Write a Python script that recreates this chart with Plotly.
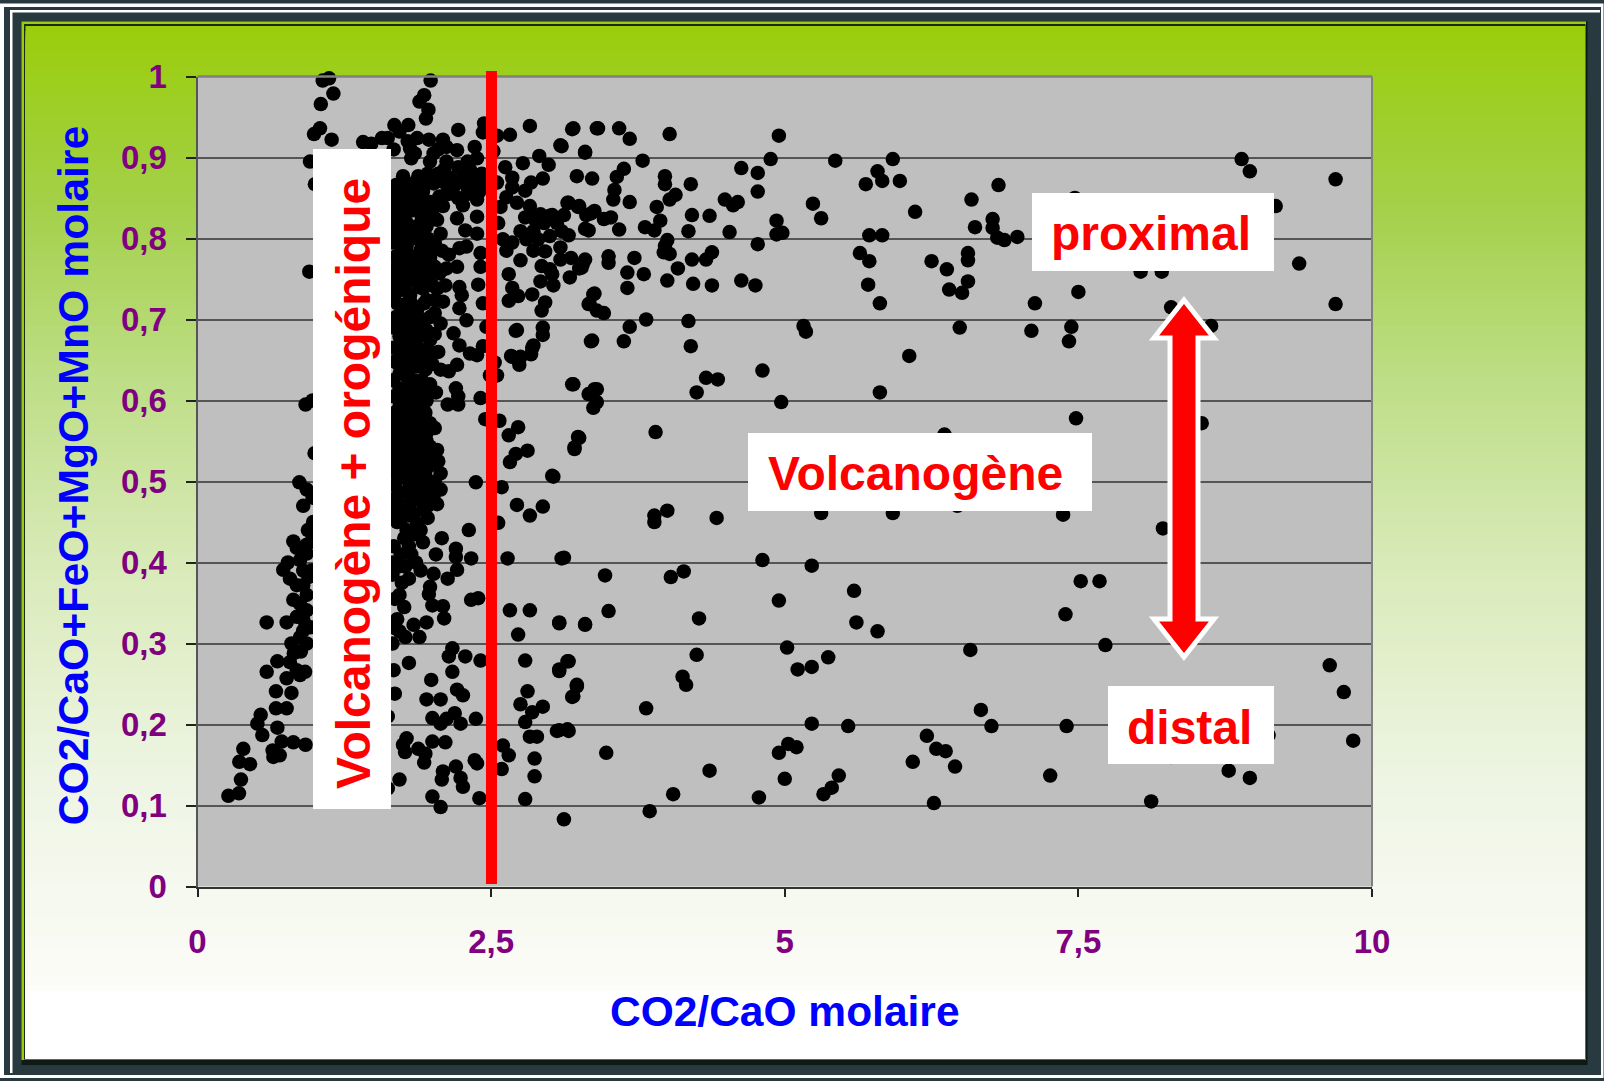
import plotly.graph_objects as go

W, H = 1604, 1081

far_field = [(9.84,.18),(9.76,.24),(9.64,.273),(9.69,.873),(9.69,.719),(9.38,.769),(9.18,.84),(8.96,.883),(8.89,.898),(8.96,.134),(8.78,.143),(9.12,.187),(8.12,.105),(8.29,.16),(8.22,.442),(8.55,.572),(8.63,.692),(8.29,.715),(8.21,.759),(8.03,.759),(7.73,.298),(7.68,.377),(7.52,.377),(7.39,.336),(7.37,.459),(7.48,.578),(7.42,.673),(7.44,.691),(7.50,.734),(7.13,.72),(7.10,.686),(7.47,.85),(6.98,.802),(6.87,.798),(6.82,.866),(6.77,.824),(6.77,.813),(6.81,.801),(6.59,.848),(6.62,.814),(6.56,.782),(6.56,.747),(6.56,.773),(6.51,.733),(6.40,.737),(6.38,.762),(6.25,.772),(6.49,.69),(6.06,.655),(6.11,.833),(5.98,.871),(5.92,.898),(5.83,.871),(5.79,.883),(5.69,.867),(5.83,.804),(5.72,.804),(5.72,.772),(5.64,.782),(5.71,.743),(5.81,.72),(5.81,.61),(5.43,.896),(5.24,.843),(5.31,.825),(5.16,.692),(5.18,.685),(4.97,.598),(4.81,.637),(4.95,.927),(4.88,.898),(4.77,.881),(4.77,.858),(4.77,.793),(4.93,.822),(4.93,.805),(4.98,.807),(4.63,.887),(4.60,.845),(4.56,.841),(4.49,.848),(4.53,.808),(4.36,.828),(4.21,.829),(4.20,.867),(4.18,.809),(4.63,.748),(4.75,.742),(4.38,.742),(4.38,.783),(4.33,.774),(4.21,.774),(4.22,.744),(4.00,.748),(4.18,.698),(4.20,.667),(4.33,.628),(4.43,.626),(4.25,.61),(3.90,.561),(4.42,.455),(4.00,.464),(3.89,.458),(3.89,.45),(4.03,.382),(4.14,.389),(4.27,.331),(4.25,.286),(4.13,.259),(4.16,.249),(3.82,.22),(4.36,.143),(4.05,.114),(3.85,.093),
(4.81,.403),(4.95,.353),(5.23,.396),(5.31,.461),(5.92,.461),(6.47,.47),(6.36,.558),(5.59,.365),(5.61,.326),(5.79,.315),(5.37,.283),(5.23,.271),(5.11,.268),(5.02,.295),(6.58,.292),(6.67,.218),(6.76,.198),(5.54,.198),(5.23,.201),(5.03,.176),(5.10,.172),(4.95,.165),(5.00,.133),(4.78,.11),(5.33,.114),(5.40,.122),(5.46,.137),(6.09,.154),(6.21,.186),(6.29,.17),(6.37,.167),(6.45,.148),(6.27,.103),(7.26,.137),(7.40,.198)]

mid_field = [(3.41,.936),(3.59,.936),(3.68,.923),(3.79,.896),(4.02,.929),(3.30,.907),(3.09,.915),(3.20,.936),(3.63,.886),(3.57,.876),(3.55,.86),(3.54,.848),(3.68,.845),(3.98,.877),(3.98,.867),(4.07,.854),(4.02,.848),(3.91,.839),(3.94,.822),(3.81,.814),(3.59,.811),(3.46,.824),(3.35,.831),(3.24,.839),(3.15,.844),(3.02,.829),(3.16,.804),(3.33,.81),(3.52,.826),(3.89,.81),(3.98,.791),(4.02,.781),(4.09,.763),(3.50,.778),(3.28,.768),(3.25,.763),(3.02,.756),(2.92,.747),(2.96,.721),(2.94,.69),(2.72,.687),(2.85,.665),(2.74,.644),(2.67,.655),(3.35,.673),(3.63,.673),(3.68,.691),(3.82,.70),(3.46,.708),(3.40,.711),(3.34,.719),(3.37,.731),(3.66,.739),(3.66,.758),(3.80,.756),(3.72,.776),(3.50,.77),(3.97,.783),(4.00,.798),
(3.12,.083),(3.48,.165),(3.15,.194),(3.08,.193),(3.23,.247),(3.20,.235),(3.15,.278),(3.08,.268),(3.30,.324),(3.08,.326),(3.50,.34),(3.47,.384),(3.12,.406),(3.02,.507),(3.24,.555),(3.21,.542),(3.40,.598),(3.34,.608),(3.40,.614),(3.20,.62),
(2.60,.174),(2.65,.162),(2.59,.145),(2.79,.108),(2.87,.136),(2.87,.158),(2.83,.185),(2.89,.185),(3.06,.192),(3.16,.192),(3.19,.234),(3.23,.249),(2.94,.222),(2.85,.215),(2.79,.203),(2.75,.225),(2.81,.241),(2.79,.279),(3.16,.278),(3.08,.266),(3.08,.325),(3.30,.323),(2.66,.341),(2.83,.341),(2.73,.311),(2.64,.405),(3.10,.405),(2.56,.449),(2.94,.469),(2.72,.471),(2.83,.458),(2.59,.493),(3.03,.506),(2.53,.647),(2.55,.631),(2.49,.631),(3.19,.62),(3.33,.608),(3.38,.614),(3.37,.591),(2.73,.567),(2.65,.557),(2.57,.575),(2.45,.577),(3.25,.554),(3.21,.54),(2.81,.538),(2.71,.534),(2.66,.524),
(2.55,.927),(2.66,.928),(2.83,.939),(3.19,.935),(3.40,.936),(3.10,.914),(3.30,.906),(2.52,.908),(2.77,.893),(2.91,.902),(2.99,.891),(2.94,.874),(3.23,.877),(3.36,.874),(2.62,.888),(2.68,.875),(2.68,.863),(2.84,.869),(2.79,.859),(2.63,.851),(2.72,.844),(2.83,.84),(2.79,.826),(2.92,.83),(3.00,.828),(3.16,.844),(3.25,.84),(3.38,.834),(3.31,.829),(3.30,.812),(3.10,.809),(2.86,.809),(2.75,.809),(3.00,.803),(2.86,.785),(2.96,.784),(3.09,.789),(3.09,.774),(3.18,.776),(3.30,.774),(3.27,.764),(3.17,.752),(2.93,.766),(3.00,.762),(3.03,.742),(2.68,.795),(2.63,.785),(2.75,.773),(2.65,.756),(2.68,.739),(2.73,.729),(2.65,.723),(2.85,.731),(2.93,.711),(3.36,.674),(3.33,.719),(3.38,.732),(2.71,.686),(2.94,.681),(2.86,.668),(2.84,.657),(2.75,.654),(2.68,.654),
(2.55,.869),(2.58,.839),(2.56,.819),(2.60,.799),(2.87,.824),(2.95,.819),(3.06,.819),(2.90,.799),(2.80,.799),(3.12,.829)]

left_tail = [(.263,.112),(.353,.115),(.37,.132),(.356,.154),(.447,.151),(.39,.170),(.646,.160),(.70,.162),(.64,.168),(.717,.179),(.816,.178),(.92,.175),(.552,.187),(.51,.201),(.538,.212),(.68,.196),(.668,.22),(.759,.22),(.668,.241),(.80,.239),(.759,.257),(.589,.265),(.68,.278),(.589,.326),(.759,.326),(.80,.30),(.873,.261),(.916,.265),(.845,.267),(.787,.277),(.82,.288),(.873,.308),(.90,.316),(.845,.333),(.93,.341),(.873,.349),(.816,.354),(.93,.36),(.90,.372),(.944,.382),(.845,.372),(.787,.38),(.73,.391),(.77,.40),(.873,.403),(.93,.411),(.816,.426),(.845,.418),(.93,.422),(.90,.47),(.867,.499),(.93,.49),(.985,.45),(.88,.29),(.93,.30),(.90,.33),(.96,.32),(.97,.39),(.90,.39),(.98,.43),(.94,.44),
(1.12,.9977),(1.066,.995),(1.157,.979),(1.05,.966),(1.043,.936),(.992,.929),(1.142,.922),(.958,.895),(1.00,.867),(.952,.759),(.92,.595),(.98,.60),(.997,.535),(.98,.48)]

top_cluster = [(1.985,.995),(1.93,.977),(1.89,.969),(1.966,.959),(1.945,.948),(1.676,.94),(1.795,.94),(1.72,.932),(2.22,.934),(2.44,.942),(2.43,.931),(1.41,.919),(1.48,.917),(1.57,.924),(1.62,.924),(1.67,.91),(1.81,.911),(1.87,.924),(1.97,.922),(2.09,.922),(2.12,.913),(2.21,.909),(2.36,.913),(1.82,.899),(1.98,.895),(2.12,.895),(2.01,.905),(2.38,.899),(1.79,.92),(1.85,.905),(2.05,.91),
(2.02,.566),(1.95,.56),(2.04,.539),(2.07,.51),(2.20,.615),(2.22,.605),(2.13,.595),(2.22,.595),(2.41,.603),(1.95,.60),(1.89,.58),(1.77,.57),(2.21,.644),(2.14,.636),(2.07,.638),(1.94,.638),(1.87,.642),(2.38,.656),(2.43,.667),(2.32,.658),(2.23,.668),(2.18,.683),(2.23,.714),(2.29,.699),(2.43,.72),(2.46,.691),(2.25,.73),(2.23,.74),(2.39,.743),(2.11,.742),(2.09,.722),(2.02,.724),(2.04,.738),(2.12,.763),(2.21,.765),(2.06,.757),(2.29,.79),(2.23,.788),(2.41,.782),(2.41,.765),(2.14,.78),(2.02,.794),(2.38,.806),(2.28,.81),(2.21,.825),(2.38,.827),(2.26,.841),(2.38,.848),(2.04,.823),(1.95,.815),(2.01,.84),(2.18,.864),(2.09,.87),(2.26,.876),(2.35,.87),(2.22,.888),(2.01,.868),(1.88,.877),(1.75,.877),(1.69,.866),(1.81,.856),(1.89,.848),(1.72,.84),(1.78,.82),(1.69,.81),(1.89,.802),(1.78,.79),(1.69,.778),(1.87,.773),(1.75,.765),(1.84,.749),(1.72,.736),(1.95,.724),(1.78,.72),(1.69,.703),(1.87,.712),(1.98,.703),(2.07,.695),(1.95,.687),(1.84,.691),(1.72,.679),(1.98,.675),(1.87,.666),(2.05,.66),(1.98,.66),(1.75,.658),(1.81,.64),(1.72,.633),(1.84,.625),(1.75,.613),(1.87,.60),(1.72,.593),(1.84,.584),(1.69,.572),(1.78,.556),(1.88,.556),(1.98,.543),(1.84,.539),(1.72,.539),(1.89,.522),(1.78,.518),(1.69,.51),(1.98,.52),(1.87,.505),
(2.15,.875),(2.28,.868),(2.32,.885),(2.30,.895),(2.42,.88),(2.44,.865),(2.14,.855),(2.22,.85),(2.30,.855),(2.05,.88),(1.96,.88),(1.92,.87),(2.10,.885)]

dense_band = [(1.68,.855),(1.76,.862),(1.84,.868),(1.92,.858),(1.98,.845),(2.06,.852),(2.13,.858),(2.30,.862),(2.40,.858),(1.66,.842),(1.74,.828),(1.83,.835),(1.91,.826),(2.00,.83),(2.09,.84),(1.67,.824),(1.72,.812),(1.81,.805),(1.87,.815),(1.96,.80),(2.07,.806),(1.66,.795),(1.74,.785),(1.82,.778),(1.90,.786),(1.98,.776),(2.08,.785),(1.68,.762),(1.72,.755),(1.80,.762),(1.88,.755),(1.97,.75),(2.02,.765),(1.66,.745),(1.76,.74),(1.81,.73),(1.92,.738),(2.00,.742),(1.66,.728),(1.74,.714),(1.83,.71),(1.91,.70),(2.02,.708),(1.67,.69),(1.76,.695),(1.82,.675),(1.91,.68),(2.02,.682),(1.67,.665),(1.77,.668),(1.93,.662),(1.68,.648),(1.76,.642),(1.85,.652),(1.93,.65),(2.00,.645),(1.66,.625),(1.78,.63),(1.91,.625),(1.98,.62),(1.67,.605),(1.79,.60),(1.92,.612),(2.03,.61),(1.68,.585),(1.78,.588),(1.94,.585),(1.66,.56),(1.74,.56),(1.82,.568),(1.90,.568),(1.98,.572),(1.67,.545),(1.80,.548),(1.92,.54),(2.00,.53),(1.68,.53),(1.76,.528),(1.84,.522),(1.94,.53),(2.05,.525),(1.66,.515),(1.74,.505),(1.82,.512),(1.94,.512),(2.02,.50),(1.68,.495),(1.78,.488),(1.90,.495),(1.98,.49),(2.07,.49),(1.66,.478),(1.76,.47),(1.88,.478),(1.96,.47),(2.04,.472),(1.66,.46),(1.80,.458),(1.92,.465),(1.70,.45),(1.87,.448),(1.78,.44),(1.67,.42),(1.80,.42),(1.92,.425),(1.66,.40),(1.77,.395),(1.90,.39),(1.66,.385),(1.74,.375),(1.68,.355),(1.76,.345),(1.70,.33),
(1.72,.85),(1.79,.845),(1.87,.84),(1.94,.835),(1.70,.83),(1.79,.815),(1.86,.80),(1.93,.79),(2.00,.785),(1.70,.80),(1.76,.80),(1.71,.77),(1.78,.775),(1.85,.765),(1.93,.765),(1.70,.75),(1.78,.75),(1.88,.74),(1.93,.72),(1.70,.72),(1.82,.72),(1.75,.705),(1.80,.70),(1.87,.695),(1.71,.695),(1.79,.68),(1.86,.68),(1.72,.662),(1.82,.66),(1.90,.66),(1.71,.645),(1.80,.65),(1.72,.615),(1.79,.615),(1.85,.61),(1.74,.60),(1.81,.59),(1.88,.595),(1.71,.575),(1.76,.575),(1.84,.565),(1.93,.575),(1.72,.555),(1.83,.552),(1.91,.552),(1.76,.54),(1.88,.54),(1.95,.55),(1.72,.52),(1.80,.53),(1.89,.535),(1.71,.505),(1.80,.50),(1.86,.515),(1.94,.50),(1.72,.485),(1.84,.49),(1.92,.48),(2.01,.482),(1.72,.47),(1.82,.475),(1.70,.465),(1.74,.455),(1.84,.46),(1.96,.455),(1.76,.43),(1.85,.435),(1.90,.44),(1.73,.41),(1.82,.41),(1.86,.40),(1.71,.395),(1.80,.38),(1.72,.36)]

lower_cluster = [(1.78,.183),(1.75,.175),(1.767,.166),(1.88,.17),(1.94,.164),(1.93,.153),(2.00,.179),(2.11,.178),(1.72,.132),(1.62,.121),(2.09,.142),(2.08,.132),(2.20,.148),(2.24,.134),(2.26,.123),(2.00,.111),(2.07,.098),(2.40,.109),(2.38,.152),(2.36,.156),(2.37,.207),(2.24,.201),(2.19,.214),(2.12,.207),(2.07,.201),(2.00,.208),(1.95,.231),(2.07,.231),(2.21,.243),(2.26,.236),(2.17,.265),(1.99,.255),(1.80,.276),(1.67,.267),(1.68,.238),(1.62,.21),(2.14,.284),(2.17,.294),(2.28,.284),(2.41,.279),(2.33,.354),(2.39,.356),(1.97,.361),(2.00,.347),(2.09,.346),(2.10,.331),(1.95,.326),(1.84,.323),(1.77,.308),(1.89,.308),(1.68,.319),(2.33,.405),(2.21,.391),(2.13,.38),(2.01,.386),(2.20,.417),(2.20,.407),(2.08,.43),(2.31,.44),(2.37,.499),(1.98,.37),(2.03,.41),(1.66,.30),(1.72,.315)]

x_values, y_values = [], []
for group in (far_field, mid_field, left_tail, top_cluster, dense_band, lower_cluster):
    for a, b in group:
        x_values.append(a)
        y_values.append(b)

x_ticks = [0, 2.5, 5, 7.5, 10]
x_labels = ["0", "2,5", "5", "7,5", "10"]
y_ticks = [0, .1, .2, .3, .4, .5, .6, .7, .8, .9, 1]
y_labels = ["0", "0,1", "0,2", "0,3", "0,4", "0,5", "0,6", "0,7", "0,8", "0,9", "1"]
x_title = "CO2/CaO molaire"
y_title = "CO2/CaO+FeO+MgO+MnO molaire"

def px(x): return x / W
def py(y): return 1 - y / H
def rect(x0, y0, x1, y1, color, layer="below", line=None):
    return dict(type="rect", xref="paper", yref="paper", x0=px(x0), x1=px(x1), y0=py(y0), y1=py(y1),
                fillcolor=color, line=dict(width=0) if line is None else line, layer=layer)

# frame
shapes = [rect(0, 0, W, H, "#28393F"),
          rect(0, 3.5, W - 0.5, H - 3, "#FFFFFF"),
          rect(4, 7, W - 3, H - 6, "#28393F"),
          rect(10, 10, W - 4, H - 8, "#FFFFFF"),
          rect(12.5, 12.5, 1600, 1073, "#28393F"),
          rect(21.5, 21.5, 1587.5, 1065, "#0E1A14"),
          rect(21.5, 21.5, 1586, 1060, "#9ACD10"),
          rect(24, 24, 1585.5, 1059.5, "#1E2B08")]
# background gradient, top to bottom
stops = [(26, (154, 206, 12)), (200, (163, 208, 72)), (380, (190, 222, 135)), (560, (216, 234, 184)),
         (780, (238, 245, 228)), (989, (252, 252, 248)), (990, (255, 255, 255)), (1059, (255, 255, 255))]
y = 26
while y < 1059:
    for (a, ca), (b, cb) in zip(stops, stops[1:]):
        if a <= y <= b:
            t = (y - a) / (b - a)
            c = tuple(round(ca[i] + (cb[i] - ca[i]) * t) for i in range(3))
            break
    shapes.append(rect(25.5, y, 1585, 1059, "rgb(%d,%d,%d)" % c))
    y += 5

# plot area and border
L, R, T, B = 197.5, 1372, 76.5, 886.5
shapes.append(rect(L, T, R, B, "#BFBFBF"))
shapes += [
    dict(type="line", xref="paper", yref="paper", x0=px(L), x1=px(R), y0=py(T), y1=py(T), line=dict(color="#808080", width=2.5), layer="above"),
    dict(type="line", xref="paper", yref="paper", x0=px(R), x1=px(R), y0=py(T), y1=py(B), line=dict(color="#808080", width=2), layer="above"),
]

# red 2,5 limit
shapes.append(dict(type="line", xref="x", yref="paper", x0=2.503, x1=2.503, y0=py(71), y1=py(884),
                   line=dict(color="#FF0000", width=11), layer="above"))
# white label boxes
for b in [(313, 149, 391, 809), (1032, 193, 1274, 271), (1108, 686, 1274, 764), (748, 433, 1092, 511)]:
    shapes.append(rect(*b, "#FFFFFF", layer="above"))
# double arrow
cx, top, bot, hw, sw, hh = 1184, 300, 657, 30, 14, 38
pts = [(cx, top), (cx + hw, top + hh), (cx + sw, top + hh), (cx + sw, bot - hh), (cx + hw, bot - hh), (cx, bot),
       (cx - hw, bot - hh), (cx - sw, bot - hh), (cx - sw, top + hh), (cx - hw, top + hh)]
path = "M " + " L ".join("%.5f %.5f" % (px(a), py(b)) for a, b in pts) + " Z"
shapes.append(dict(type="path", xref="paper", yref="paper", path=path, fillcolor="#FF0000",
                   line=dict(color="#FFFFFF", width=5), layer="above"))

def label(text, cx, cy, angle=0, size=48):
    return dict(text="<b>%s</b>" % text, xref="paper", yref="paper", x=px(cx), y=py(cy), xanchor="center", yanchor="middle",
                showarrow=False, textangle=angle, font=dict(family="Liberation Sans", size=size, color="#FF0000"))

annotations = [label("Volcanogène + orogénique", 353, 484, -90),
               label("proximal", 1151, 233),
               label("distal", 1189, 727),
               label("Volcanogène", 915, 473)]

fig = go.Figure(go.Scatter(x=x_values, y=y_values, mode="markers", cliponaxis=False,
                           marker=dict(symbol="circle", size=14.5, color="#000000", line=dict(width=0))))
fig.update_layout(
    width=W, height=H, margin=dict(l=0, r=0, t=0, b=0, autoexpand=False), showlegend=False,
    paper_bgcolor="#FFFFFF", plot_bgcolor="rgba(0,0,0,0)",
    shapes=shapes, annotations=annotations,
    font=dict(family="Liberation Sans"),
    xaxis=dict(domain=[px(L), px(R)], range=[0, 10], tickmode="array", tickvals=x_ticks, ticktext=["<b>%s</b>" % t for t in x_labels],
               tickfont=dict(size=33, color="#800080"), ticks="outside", ticklen=8, tickwidth=1.5, tickcolor="#222222",
               showgrid=False, zeroline=False, showline=True, linecolor="#333333", linewidth=2, ticklabelstandoff=17,
               title=dict(text="<b>%s</b>" % x_title, font=dict(size=42.5, color="#0000FF"), standoff=37)),
    yaxis=dict(domain=[py(B), py(T)], range=[0, 1], tickmode="array", tickvals=y_ticks, ticktext=["<b>%s</b>" % t for t in y_labels],
               tickfont=dict(size=33, color="#800080"), ticks="outside", ticklen=10, tickwidth=1.5, tickcolor="#222222",
               showgrid=True, gridcolor="#555555", gridwidth=1.5, zeroline=False, showline=True, linecolor="#555555", linewidth=2, ticklabelstandoff=12,
               title=dict(text="<b>&nbsp;%s</b>" % y_title, font=dict(size=42.75, color="#0000FF"), standoff=19)),
)
fig.write_html("out.html", config={"displayModeBar": False},
               post_script="document.body.style.margin='0';document.body.style.overflow='hidden';")
